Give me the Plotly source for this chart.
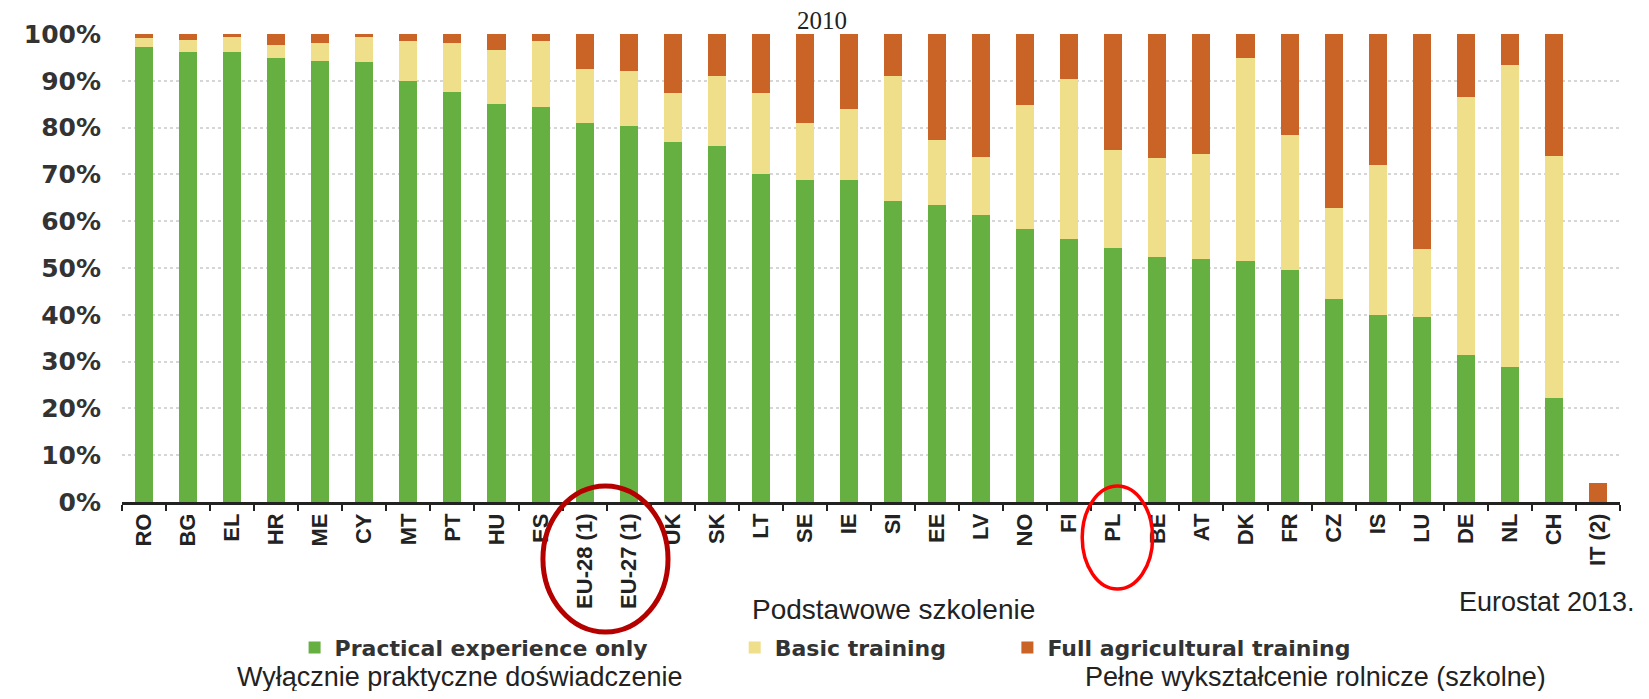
import plotly.graph_objects as go

# ---- data (percent of farm managers, 2010) ----
countries = ["RO", "BG", "EL", "HR", "ME", "CY", "MT", "PT", "HU", "ES",
             "EU-28 (1)", "EU-27 (1)", "UK", "SK", "LT", "SE", "IE", "SI", "EE", "LV",
             "NO", "FI", "PL", "BE", "AT", "DK", "FR", "CZ", "IS", "LU",
             "DE", "NL", "CH", "IT (2)"]
practical = [97.2, 96.2, 96.2, 94.8, 94.3, 94.0, 90.0, 87.6, 85.1, 84.4,
             80.9, 80.4, 77.0, 76.1, 70.0, 68.9, 68.9, 64.3, 63.4, 61.3,
             58.4, 56.2, 54.2, 52.3, 52.0, 51.6, 49.6, 43.4, 39.9, 39.5,
             31.4, 28.9, 22.3, 0.0]
basic = [1.9, 2.5, 3.1, 2.9, 3.8, 5.3, 8.4, 10.4, 11.4, 14.0,
         11.6, 11.7, 10.4, 14.9, 17.4, 12.1, 15.0, 26.7, 13.9, 12.5,
         26.5, 34.2, 21.1, 21.2, 22.3, 43.3, 28.8, 19.5, 32.2, 14.6,
         55.1, 64.5, 51.7, 0.0]
full = [0.9, 1.3, 0.7, 2.3, 1.9, 0.7, 1.6, 2.0, 3.5, 1.6,
        7.5, 7.9, 12.6, 9.0, 12.6, 19.0, 16.1, 9.0, 22.7, 26.2,
        15.1, 9.6, 24.7, 26.5, 25.7, 5.1, 21.6, 37.1, 27.9, 45.9,
        13.5, 6.6, 26.0, 4.1]
series_names = ["Practical experience only", "Basic training", "Full agricultural training"]
colors = ["#66B042", "#F0DF8A", "#C96326"]
y_ticks = list(range(0, 101, 10))
y_ticklabels = [f"{v}%" for v in y_ticks]

title_text = "2010"
source_text = "Eurostat 2013."
pl_basic = "Podstawowe szkolenie"
pl_practical = "Wyłącznie praktyczne doświadczenie"
pl_full = "Pełne wykształcenie rolnicze (szkolne)"

fig = go.Figure()
for name, vals, col, lg in zip(series_names, [practical, basic, full], colors,
                               ["legend", "legend2", "legend3"]):
    fig.add_trace(go.Bar(x=countries, y=vals, name=name, marker_color=col,
                         marker_line_width=0, legend=lg, showlegend=True))

legend_font = dict(family="DejaVu Sans", size=22, color="#333333", weight="bold")
leg_common = dict(orientation="h", yref="container", xref="container",
                  yanchor="middle", y=0.0635, xanchor="left", visible=True,
                  font=legend_font, bgcolor="rgba(0,0,0,0)", itemwidth=30,
                  tracegroupgap=0)

# page body has an 8px default margin: figure is sized so the page fits the window
fig.update_layout(
    width=1633, height=683,
    showlegend=True,
    margin=dict(l=114, r=21, t=26, b=189, autoexpand=False),
    paper_bgcolor="white", plot_bgcolor="white",
    barmode="stack", bargap=0.59,
    legend=dict(x=0.1755, **leg_common),
    legend2=dict(x=0.445, **leg_common),
    legend3=dict(x=0.612, **leg_common),
    xaxis=dict(
        type="category", showline=True, linecolor="#222222", linewidth=2.5,
        ticks="outside", tickson="boundaries", ticklen=6, tickwidth=2,
        tickcolor="#222222", tickangle=-90, showgrid=False, automargin=False,
        tickfont=dict(family="Liberation Sans", size=22, color="#222222", weight="bold"),
    ),
    yaxis=dict(
        range=[0, 100], tickmode="array", tickvals=y_ticks, ticktext=y_ticklabels,
        showgrid=True, gridcolor="#d6d6d6", gridwidth=2, griddash="3px,3px",
        zeroline=False, showline=False, ticks="", ticklabelstandoff=20,
        automargin=False,
        tickfont=dict(family="DejaVu Sans", size=25, color="#333333", weight="bold"),
    ),
)

ann_font = dict(family="Liberation Sans", size=28, color="#222222")
bottom_font = dict(family="Liberation Sans", size=27, color="#222222")
fig.add_annotation(text=title_text, xref="paper", yref="paper", x=0.467, y=1.028,
                   showarrow=False, xanchor="center", yanchor="middle",
                   font=dict(family="Liberation Serif", size=25, color="#222222"))
fig.add_annotation(text=pl_basic, xref="paper", yref="paper", x=0.5147, y=-0.229,
                   showarrow=False, xanchor="center", yanchor="middle", font=ann_font)
fig.add_annotation(text=pl_practical, xref="paper", yref="paper", x=0.225, y=-0.373,
                   showarrow=False, xanchor="center", yanchor="middle", font=bottom_font)
fig.add_annotation(text=pl_full, xref="paper", yref="paper", x=0.797, y=-0.373,
                   showarrow=False, xanchor="center", yanchor="middle", font=bottom_font)
fig.add_annotation(text=source_text, xref="paper", yref="paper", x=0.951, y=-0.214,
                   showarrow=False, xanchor="center", yanchor="middle",
                   font=dict(family="Liberation Sans", size=27, color="#222222"))

# highlight ellipses (EU averages and Poland)
fig.add_shape(type="circle", xref="paper", yref="paper",
              x0=0.281, x1=0.3645, y0=-0.278, y1=0.034,
              line=dict(color="#B50000", width=5))
fig.add_shape(type="circle", xref="paper", yref="paper",
              x0=0.641, x1=0.688, y0=-0.186, y1=0.034,
              line=dict(color="#FF0000", width=3.5))

fig.write_html("out.html")
